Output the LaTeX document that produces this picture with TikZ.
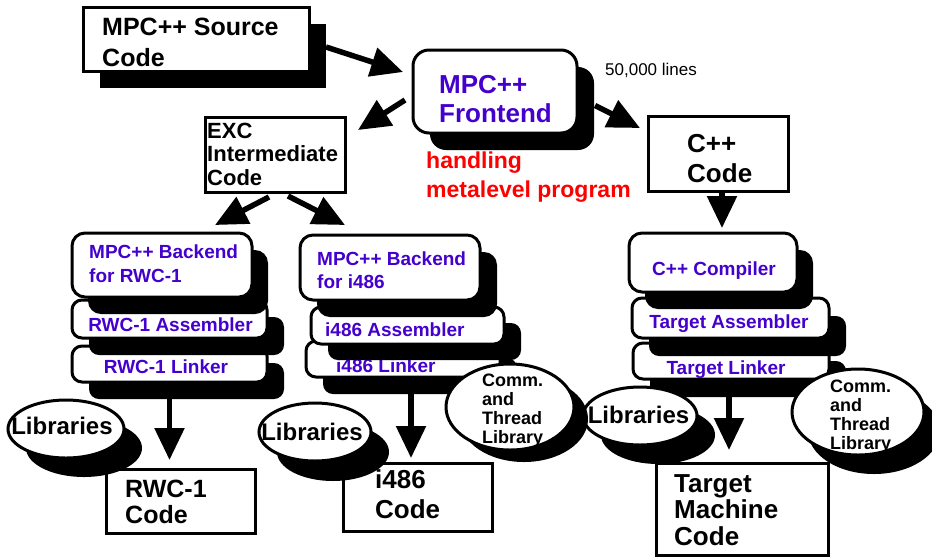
\documentclass[tikz,border=0pt]{standalone}
\usepackage{fontspec}
\setmainfont{Liberation Sans}
\usetikzlibrary{arrows.meta,calc,shapes.geometric}
\definecolor{vio}{RGB}{68,0,204}
\definecolor{myred}{RGB}{255,0,0}
\newcommand\fs[2]{\fontsize{#1}{#2}\selectfont}
\tikzset{
  bx/.style={draw, line width=3pt, fill=white, inner sep=0pt, outer sep=0pt},
  rbx/.style={bx, rounded corners=#1},
  shd/.style={fill=black, draw=none, inner sep=0pt, outer sep=0pt},
  rshd/.style={shd, rounded corners=#1},
  ebx/.style={draw, ellipse, line width=3pt, fill=white, inner sep=0pt, outer sep=0pt},
  eshd/.style={fill=black, ellipse, inner sep=0pt, outer sep=0pt},
  arr/.style={line width=5.5pt, -{Triangle[length=32pt,width=29pt]}},
  lbl/.style={inner sep=0pt, anchor=base west, align=left},
  clbl/.style={inner sep=0pt, anchor=base, align=center},
  libt/.style={clbl, font=\bfseries\fs{24}{28}},
}
\begin{document}
\begin{tikzpicture}[x=1pt,y=-1pt]
\useasboundingbox (0,0) rectangle (932,558);

% ---- source code
\node[shd, minimum width=226pt, minimum height=64pt] (srcS) at (213,56) {};
\node[bx, minimum width=226pt, minimum height=64pt] (src) at (196,39) {};
\node[lbl, font=\bfseries\fs{25}{31}] (srct) at (102,66) {MPC++ Source\\Code};

% ---- frontend
\node[rshd=16pt, minimum width=164pt, minimum height=83pt] (feS) at (512,108.5) {};
\node[rbx=16pt, minimum width=164pt, minimum height=83pt] (fe) at (495,91.5) {};
\node[lbl, font=\bfseries\fs{26}{29}, text=vio] (fet) at (439,122) {MPC++\\Frontend};
\node[lbl, font=\fs{17}{20}] (lines) at (605,75) {50,000 lines};
\node[lbl, font=\bfseries\fs{23}{29}, text=myred] (meta) at (426,197) {handling\\metalevel program};

% ---- EXC
\node[bx, minimum width=140pt, minimum height=75pt] (exc) at (275,154.5) {};
\node[lbl, font=\bfseries\fs{22}{23.5}] (exct) at (207,185) {EXC\\Intermediate\\Code};

% ---- C++ code
\node[bx, minimum width=140pt, minimum height=75pt] (cpp) at (718,153.5) {};
\node[lbl, font=\bfseries\fs{26}{30}] (cppt) at (687,182) {C++\\Code};

% ---- arrows top
\draw[arr] ($(srcS.east)+(0,-9)$) -- ($(fe.west)+(-10,-19.5)$);
\draw[arr] ($(feS.east)+(1,-3)$) -- ($(cpp.north west)+(-8,12)$);

% ---- left stack (RWC-1)
\node[rshd=10pt, minimum width=195pt, minimum height=36pt] (rwcLS) at (186.5,381) {};
\node[rbx=10pt, minimum width=195pt, minimum height=36pt] (rwcL) at (169.5,364) {};
\node[clbl, font=\bfseries\fs{19}{24}, text=vio] (rwcLt) at (166,373) {RWC-1 Linker};
\node[rshd=10pt, minimum width=195pt, minimum height=38pt] (rwcAS) at (186.5,336) {};
\node[rbx=10pt, minimum width=195pt, minimum height=38pt] (rwcA) at (169.5,319) {};
\node[clbl, font=\bfseries\fs{19}{24}, text=vio] (rwcAt) at (170.5,331) {RWC-1 Assembler};
\node[rshd=13pt, minimum width=180pt, minimum height=64pt] (rwcBS) at (178,282) {};
\node[rbx=13pt, minimum width=180pt, minimum height=64pt] (rwcB) at (162,265) {};
\node[lbl, font=\bfseries\fs{19}{24}, text=vio] (rwcBt) at (89,282) {MPC++ Backend\\for RWC-1};

% ---- middle stack (i486)
\node[rshd=10pt, minimum width=194pt, minimum height=36pt] (iLS) at (420,376) {};
\node[rbx=10pt, minimum width=194pt, minimum height=36pt] (iL) at (403,359) {};
\node[lbl, font=\bfseries\fs{19}{24}, text=vio] (iLt) at (336,372) {i486 Linker};
\node[rshd=10pt, minimum width=193pt, minimum height=37pt] (iAS) at (424.5,341.5) {};
\node[rbx=10pt, minimum width=193pt, minimum height=37pt] (iA) at (407.5,325.5) {};
\node[lbl, font=\bfseries\fs{19}{24}, text=vio] (iAt) at (325,336) {i486 Assembler};
\node[rshd=13pt, minimum width=180pt, minimum height=65pt] (iBS) at (407,284.5) {};
\node[rbx=13pt, minimum width=180pt, minimum height=65pt] (iB) at (390,267.5) {};
\node[lbl, font=\bfseries\fs{19}{23}, text=vio] (iBt) at (317,288) {MPC++ Backend\\for i486};

% ---- right stack (target)
\node[rshd=10pt, minimum width=196pt, minimum height=36pt] (tLS) at (748,379) {};
\node[rbx=10pt, minimum width=196pt, minimum height=36pt] (tL) at (731,361) {};
\node[clbl, font=\bfseries\fs{19}{24}, text=vio] (tLt) at (726,374) {Target Linker};
\node[rshd=10pt, minimum width=197pt, minimum height=40pt] (tAS) at (747.5,336) {};
\node[rbx=10pt, minimum width=197pt, minimum height=40pt] (tA) at (730.5,318) {};
\node[clbl, font=\bfseries\fs{19}{24}, text=vio] (tAt) at (729,328) {Target Assembler};
\node[rshd=13pt, minimum width=168pt, minimum height=59pt] (ccS) at (729,279.5) {};
\node[rbx=13pt, minimum width=168pt, minimum height=59pt] (cc) at (713,262.5) {};
\node[clbl, font=\bfseries\fs{19}{24}, text=vio] (cct) at (714,275) {C++ Compiler};

% ---- arrows middle
\draw[arr] ($(fe.west)+(-8,8.5)$) -- ($(exc.north east)+(13,13)$);
\draw[arr] ($(exc.south)+(-6,5)$) -- ($(rwcB.north)+(53,-8)$);
\draw[arr] ($(exc.south)+(13,4)$) -- ($(iB.north)+(-45,-10)$);
\draw[arr] ($(cpp.south)+(4,0)$) -- ($(cc.north)+(9,-5)$);

% ---- code boxes
\node[bx, minimum width=149pt, minimum height=64pt] (rwcC) at (180.5,501) {};
\node[lbl, font=\bfseries\fs{25}{26}] (rwcCt) at (125,523) {RWC-1\\Code};
\node[bx, minimum width=149pt, minimum height=68pt] (iC) at (417.5,497) {};
\node[lbl, font=\bfseries\fs{26}{30}] (iCt) at (375,518) {i486\\Code};
\node[bx, minimum width=172pt, minimum height=92pt] (tmc) at (742,509) {};
\node[lbl, font=\bfseries\fs{26}{26.5}] (tmct) at (674,545) {Target\\Machine\\Code};

% ---- arrows down
\draw[arr] (rwcL.south) -- ($(rwcL.south |- rwcC.north)+(0,-9)$);
\draw[arr] ($(iL.south)+(8,0)$) -- ($(iC.north)+(-6.5,-5)$);
\draw[arr] ($(tL.south)+(-2,0)$) -- ($(tmc.north)+(-13,-13)$);

% ---- libraries
\node[eshd, minimum width=116pt, minimum height=58pt] (lib1S) at (84,448) {};
\node[ebx, minimum width=116pt, minimum height=58pt] (lib1) at (66,429) {};
\node[libt] (lib1t) at (62,434) {Libraries};
\node[eshd, minimum width=112pt, minimum height=58pt] (lib2S) at (333,452) {};
\node[ebx, minimum width=112pt, minimum height=58pt] (lib2) at (315,432) {};
\node[libt] (lib2t) at (312,440) {Libraries};
\node[eshd, minimum width=114pt, minimum height=58pt] (lib3S) at (658,435) {};
\node[ebx, minimum width=114pt, minimum height=58pt] (lib3) at (640,416) {};
\node[libt] (lib3t) at (638.5,423) {Libraries};

% ---- comm libraries
\node[eshd, minimum width=128pt, minimum height=86pt] (com1S) at (524,419) {};
\node[ebx, minimum width=128pt, minimum height=86pt] (com1) at (510,407) {};
\node[lbl, font=\bfseries\fs{18}{18.7}] (com1t) at (482,443) {Comm.\\and\\Thread\\Library};
\node[eshd, minimum width=132pt, minimum height=86pt] (com2S) at (874,431) {};
\node[ebx, minimum width=132pt, minimum height=86pt] (com2) at (858,412) {};
\node[lbl, font=\bfseries\fs{18}{18.7}] (com2t) at (830,449) {Comm.\\and\\Thread\\Library};
\end{tikzpicture}
\end{document}
